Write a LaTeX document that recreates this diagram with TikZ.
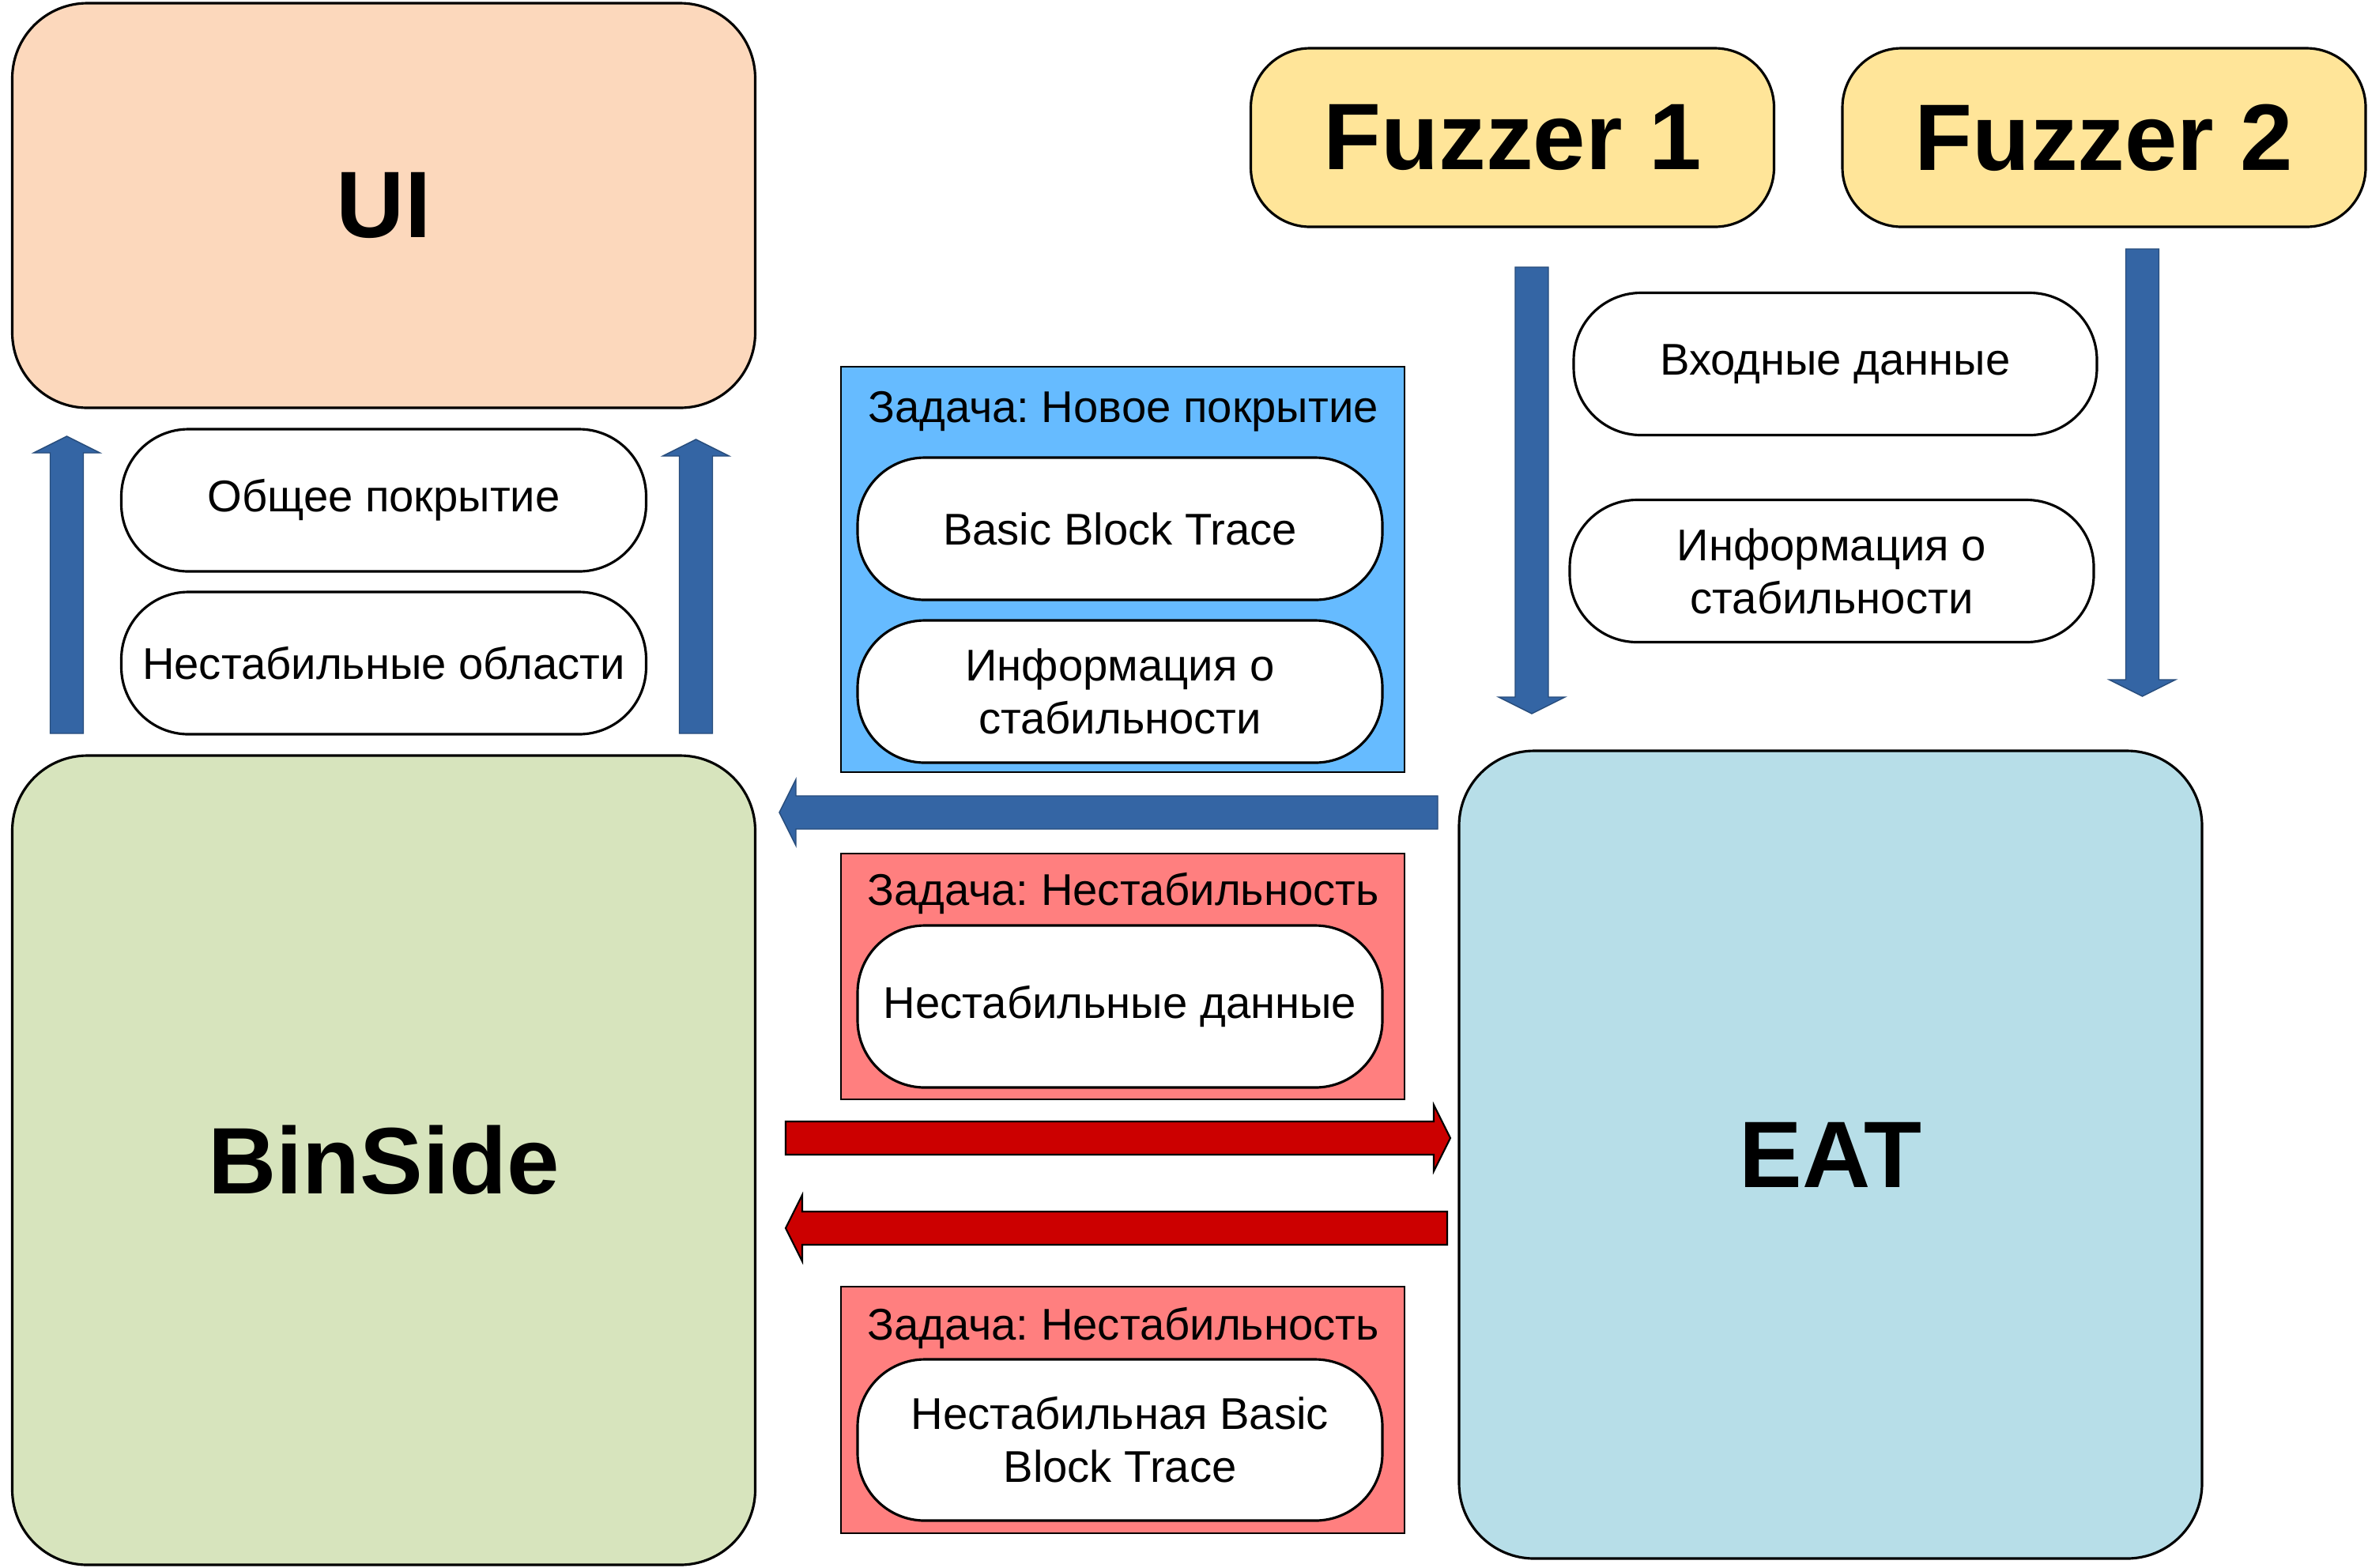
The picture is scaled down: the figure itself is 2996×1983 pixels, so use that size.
\documentclass[tikz,border=0pt]{standalone}
\usepackage{fontspec}
\setmainfont{Liberation Sans}
\frenchspacing
\usetikzlibrary{calc}
\definecolor{uipeach}{HTML}{FCD8BC}
\definecolor{binsidegreen}{HTML}{D7E4BD}
\definecolor{eatblue}{HTML}{B7DEE8}
\definecolor{fuzzyellow}{HTML}{FFE599}
\definecolor{taskblue}{HTML}{66BBFF}
\definecolor{taskred}{HTML}{FF7F7F}
\definecolor{flowblue}{HTML}{3465A4}
\definecolor{flowred}{HTML}{CC0000}
\newcommand{\itemfont}{\fontsize{16}{19}\selectfont}
\newcommand{\titlefont}{\fontsize{34}{40}\selectfont\bfseries}
% fat block arrow from #2 to #3
\newcommand{\fatarrow}[3][]{%
  \coordinate (headbase) at ($(#3)!2.1mm!(#2)$);
  \draw[#1] ($(#2)!2.1mm!90:(#3)$) -- ($(headbase)!2.1mm!-90:(#2)$)
    -- ($(headbase)!4.2mm!-90:(#2)$) -- (#3) -- ($(headbase)!4.2mm!90:(#2)$)
    -- ($(headbase)!2.1mm!90:(#2)$) -- ($(#2)!2.1mm!-90:(#3)$) -- cycle;
}
\tikzset{
  bigbox/.style={draw=black,line width=0.9pt,rounded corners=9.5mm,
                 inner sep=0pt,minimum width=94mm,font=\titlefont},
  fuzzbox/.style={draw=black,fill=fuzzyellow,line width=0.9pt,rounded corners=7.5mm,
                  inner sep=0pt,minimum width=66.2mm,minimum height=22.6mm,font=\titlefont},
  itembox/.style={draw=black,fill=white,line width=0.9pt,rounded corners=8.5mm,
                  inner sep=0pt,minimum width=66.4mm,minimum height=18mm,
                  align=center,font=\itemfont},
  taskpanel/.style={draw=black,line width=0.6pt,inner sep=0pt,minimum width=71.3mm},
  tasktitle/.style={font=\itemfont,inner sep=0pt,anchor=base},
  bluefat/.style={fill=flowblue,draw=flowblue!75!black,line width=0.4pt,line join=miter},
  redfat/.style={fill=flowred,draw=black,line width=0.6pt,line join=miter}
}

\begin{document}
\begin{tikzpicture}[x=0.1mm,y=-0.1mm]
  \useasboundingbox (0,0) rectangle (2996,1983);

  % components
  \node[bigbox,fill=uipeach,minimum height=51.2mm] (ui) at (485.5,260) {UI};
  \node[bigbox,fill=binsidegreen,minimum height=102.4mm] (binside) at (485.5,1468) {BinSide};
  \node[bigbox,fill=eatblue,minimum height=102.2mm] (eat) at (2316,1461) {EAT};
  \node[fuzzbox] (fuzz1) at (1913.5,174) {Fuzzer 1};
  \node[fuzzbox] (fuzz2) at (2662,174) {Fuzzer 2};

  % data shown in UI
  \node[itembox] (total) at (485.5,633) {Общее покрытие};
  \node[itembox] (unstareas) at (485.5,839) {Нестабильные области};

  % data from fuzzers
  \node[itembox,minimum width=66.2mm] (inputs) at (2322,460.5) {Входные данные};
  \node[itembox,minimum width=66.3mm] (fuzzstab) at (2317.5,722.5) {Информация о\\стабильности};

  % tasks
  \node[taskpanel,fill=taskblue,minimum height=51.3mm] (covtask) at (1420.5,720.5) {};
  \node[tasktitle] (covtitle) at (1421,534) {Задача: Новое покрытие};
  \node[itembox] (bbtrace) at (1417,669) {Basic Block Trace};
  \node[itembox] (covstab) at (1417,875) {Информация о\\стабильности};

  \node[taskpanel,fill=taskred,minimum height=31.1mm] (unsttask) at (1420.5,1235.5) {};
  \node[tasktitle] (unsttitle) at (1421,1145) {Задача: Нестабильность};
  \node[itembox,minimum height=20.5mm] (unstdata) at (1417,1273.5) {Нестабильные данные};

  \node[taskpanel,fill=taskred,minimum height=31.2mm] (bbtask) at (1420.5,1784) {};
  \node[tasktitle] (bbtitle) at (1421,1695) {Задача: Нестабильность};
  \node[itembox,minimum height=20.4mm] (unstbb) at (1417,1822) {Нестабильная Basic\\Block Trace};

  % arrow ends
  \coordinate (uiL0) at (84.5,928);   \coordinate (uiL1) at (84.5,552);
  \coordinate (uiR0) at (880.5,928);  \coordinate (uiR1) at (880.5,556);
  \coordinate (f1a) at (1938,338);    \coordinate (f1b) at (1938,903);
  \coordinate (f2a) at (2710.5,315);  \coordinate (f2b) at (2710.5,881);
  \coordinate (covA) at (1819,1028);  \coordinate (covB) at (986,1028);
  \coordinate (unstA) at (994,1440);  \coordinate (unstB) at (1835,1440);
  \coordinate (bbA) at (1831,1554);   \coordinate (bbB) at (994,1554);

  \fatarrow[bluefat]{uiL0}{uiL1}
  \fatarrow[bluefat]{uiR0}{uiR1}
  \fatarrow[bluefat]{f1a}{f1b}
  \fatarrow[bluefat]{f2a}{f2b}
  \fatarrow[bluefat]{covA}{covB}
  \fatarrow[redfat]{unstA}{unstB}
  \fatarrow[redfat]{bbA}{bbB}
\end{tikzpicture}
\end{document}
